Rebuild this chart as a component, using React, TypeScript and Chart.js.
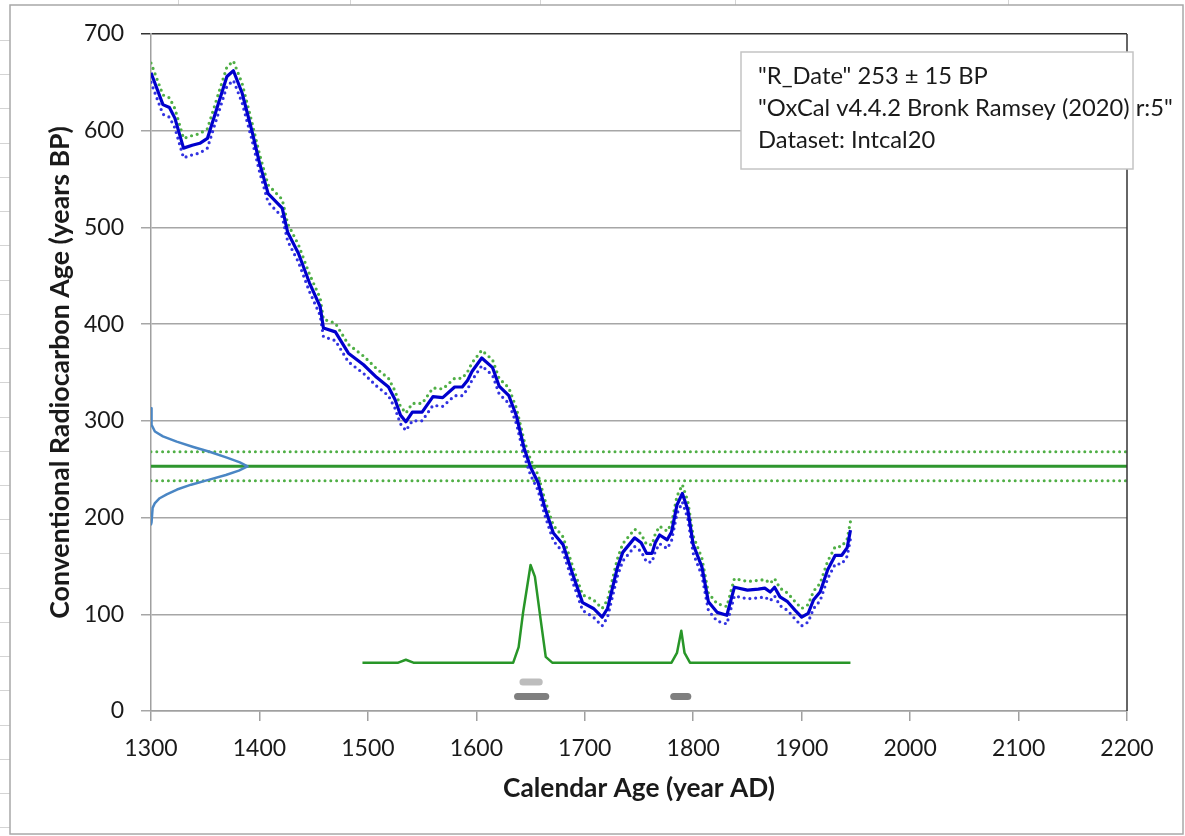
import React, { useEffect, useRef } from 'react';
import { Chart, registerables } from 'chart.js';

Chart.register(...registerables);

const W = 1185;
const H = 836;

// ---- data ----
const xMin = 1300;
const xMax = 2200;
const yMin = 0;
const yMax = 700;
const tickStep = 100;

const curveYears = [
  1300, 1311, 1317, 1322, 1330, 1338, 1345, 1352, 1361, 1370,
  1376, 1384, 1393, 1400, 1408, 1421, 1426, 1436, 1446, 1456,
  1459, 1470, 1482, 1496, 1508, 1519, 1525, 1530, 1535, 1541,
  1550, 1560, 1569, 1580, 1587, 1592, 1596, 1605, 1615, 1621,
  1630, 1637, 1644, 1650, 1657, 1663, 1671, 1680, 1689, 1698,
  1708, 1716, 1721, 1730, 1735, 1746, 1752, 1757, 1762, 1765,
  1769, 1776, 1780, 1785, 1790, 1795, 1800, 1808, 1814, 1822,
  1831, 1838, 1850, 1860, 1866, 1871, 1875, 1880, 1887, 1894,
  1900, 1906, 1911, 1917, 1924, 1931, 1937, 1942, 1945,
];
const curveBP = [
  660, 627, 624, 613, 582, 585, 587, 592, 624, 656,
  662, 639, 600, 567, 535, 520, 495, 473, 443, 418,
  396, 392, 370, 358, 345, 335, 322, 306, 299, 309,
  309, 325, 324, 335, 335, 342, 351, 365, 355, 336,
  326, 305, 272, 252, 236, 211, 184, 172, 141, 112,
  106, 97, 106, 148, 164, 179, 174, 163, 163, 174,
  182, 177, 185, 213, 225, 208, 172, 149, 113, 102,
  99, 128, 125, 126, 127, 123, 128, 118, 113, 104,
  97, 101, 115, 123, 146, 161, 161, 169, 187,
];
const curveSigma = [
  10, 10, 10, 10, 10, 10, 10, 10, 10, 10,
  10, 10, 9, 9, 9, 9, 9, 9, 9, 9,
  9, 9, 9, 9, 9, 9, 9, 9, 9, 9,
  9, 9, 9, 9, 9, 9, 9, 8, 8, 8,
  8, 8, 8, 8, 8, 8, 8, 8, 8, 8,
  9, 9, 9, 9, 9, 9, 9, 9, 9, 9,
  9, 9, 9, 9, 9, 9, 9, 9, 9, 9,
  9, 9, 9, 9, 9, 9, 9, 9, 9, 9,
  9, 9, 9, 9, 9, 9, 9, 9, 9,
];

const dateBP = 253;
const dateSigma = 15;

// measured-date distribution drawn on the y axis (x = year, y = BP)
const gaussYears = [1300, 1300.5, 1303.6, 1311, 1323.7, 1339, 1354, 1370, 1382, 1389, 1381, 1369, 1353, 1337, 1324, 1314.5, 1308, 1303.6, 1301.5, 1300.5, 1300];
const gaussBP = [313, 296, 289, 284, 278.5, 273, 268, 262, 257, 253, 248.5, 244, 239, 234, 229, 224, 220, 215, 210, 195, 193];

// calibrated probability distribution (plotted in BP units)
const probYears = [1495, 1528, 1535, 1542, 1634, 1639, 1643, 1650, 1654, 1659, 1664, 1670, 1780, 1785, 1789, 1792, 1797, 1945];
const probBP = [50, 50, 53, 50, 50, 66, 101, 151, 139, 97, 56, 50, 50, 60, 83, 60, 50, 50];

// calibrated ranges (68.3% light, 95.4% dark)
const rangeStart = [1643, 1638, 1782];
const rangeEnd = [1658, 1664, 1795];
const rangeBP = [30, 15, 15];
const rangeColors = ['#bdbdbd', '#7f7f7f', '#7f7f7f'];

const infoLines = ['"R_Date" 253 ± 15 BP', '"OxCal v4.4.2 Bronk Ramsey (2020) r:5"', 'Dataset: Intcal20'];
const xTitle = 'Calendar Age (year AD)';
const yTitle = 'Conventional Radiocarbon Age (years BP)';

const FONT = 'Lato, "Open Sans", "Noto Sans", sans-serif';

function fitSize(ctx: CanvasRenderingContext2D, text: string, weight: string, target: number, start: number) {
  let s = start;
  for (let i = 0; i < 40; i++) {
    ctx.font = `${weight} ${s}px ${FONT}`;
    const w = ctx.measureText(text).width;
    if (Math.abs(w - target) < 1) break;
    s = s * target / w;
  }
  return s;
}

const decoPlugin = {
  id: 'deco',
  beforeDraw(chart: any) {
    const ctx: CanvasRenderingContext2D = chart.ctx;
    ctx.save();
    ctx.fillStyle = '#ffffff';
    ctx.fillRect(0, 0, W, H);
    // spreadsheet cells around the chart object
    ctx.strokeStyle = '#d4d4d4';
    ctx.lineWidth = 1;
    for (let k = 0; k < 24; k++) {
      const y = Math.round(40 + 34.23 * k) + 0.5;
      ctx.beginPath();
      ctx.moveTo(0, y);
      ctx.lineTo(10, y);
      ctx.stroke();
    }
    [178, 350, 540, 735, 1008].forEach((x) => {
      ctx.beginPath();
      ctx.moveTo(x + 0.5, 0);
      ctx.lineTo(x + 0.5, 5);
      ctx.stroke();
    });
    // chart object border
    ctx.strokeStyle = '#a8a8a8';
    ctx.lineWidth = 1.5;
    ctx.strokeRect(10, 5, 1173, 829);
    ctx.restore();
  },
  afterDraw(chart: any) {
    const ctx: CanvasRenderingContext2D = chart.ctx;
    const a = chart.chartArea;
    ctx.save();
    // right border of plot area
    ctx.strokeStyle = '#333333';
    ctx.lineWidth = 1.5;
    ctx.beginPath();
    ctx.moveTo(a.right, a.top);
    ctx.lineTo(a.right, a.bottom);
    ctx.stroke();

    // axis titles
    ctx.fillStyle = '#1a1a1a';
    ctx.textAlign = 'center';
    ctx.textBaseline = 'middle';
    const xs = fitSize(ctx, xTitle, 'bold', 272, 22);
    ctx.font = `bold ${xs}px ${FONT}`;
    ctx.fillText(xTitle, (a.left + a.right) / 2, 789);
    const ys = fitSize(ctx, yTitle, 'bold', 493, 22);
    ctx.font = `bold ${ys}px ${FONT}`;
    ctx.translate(60, (a.top + a.bottom) / 2);
    ctx.rotate(-Math.PI / 2);
    ctx.fillText(yTitle, 0, 0);
    ctx.setTransform(1, 0, 0, 1, 0, 0);

    // info box
    ctx.fillStyle = '#ffffff';
    ctx.fillRect(741, 52, 392, 117);
    ctx.strokeStyle = '#c4c4c4';
    ctx.lineWidth = 1.5;
    ctx.strokeRect(741, 52, 392, 117);
    const bs = fitSize(ctx, infoLines[1], 'normal', 415, 20);
    ctx.font = `normal ${bs}px ${FONT}`;
    ctx.fillStyle = '#1a1a1a';
    ctx.textAlign = 'left';
    ctx.textBaseline = 'alphabetic';
    const baselines = [84, 116, 148];
    infoLines.forEach((t, i) => ctx.fillText(t, 758, baselines[i]));
    ctx.restore();
  },
};

function pts(xs: number[], ys: number[]) {
  return xs.map((x, i) => ({ x, y: ys[i] }));
}

export default function App() {
  const ref = useRef<HTMLCanvasElement | null>(null);

  useEffect(() => {
    if (!ref.current) return;
    const green = 'rgb(46,150,46)';
    const greenDot = 'rgb(80,175,70)';
    const blue = 'rgb(0,0,205)';
    const blueDot = 'rgb(50,50,225)';
    const dot = [0, 5.8];

    const datasets: any[] = [
      {
        label: 'curve',
        data: pts(curveYears, curveBP),
        borderColor: blue,
        borderWidth: 3.2,
        order: 1,
      },
      {
        label: 'upper',
        data: curveYears.map((x, i) => ({ x, y: curveBP[i] + curveSigma[i] })),
        borderColor: greenDot,
        borderWidth: 3.2,
        borderDash: dot,
        borderCapStyle: 'round',
        order: 3,
      },
      {
        label: 'lower',
        data: curveYears.map((x, i) => ({ x, y: curveBP[i] - curveSigma[i] })),
        borderColor: blueDot,
        borderWidth: 3.2,
        borderDash: dot,
        borderCapStyle: 'round',
        order: 2,
      },
      {
        label: 'date',
        data: [{ x: xMin, y: dateBP }, { x: xMax, y: dateBP }],
        borderColor: green,
        borderWidth: 3,
        order: 5,
      },
      {
        label: 'date+',
        data: [{ x: xMin, y: dateBP + dateSigma }, { x: xMax, y: dateBP + dateSigma }],
        borderColor: greenDot,
        borderWidth: 3,
        borderDash: dot,
        borderCapStyle: 'round',
        order: 5,
      },
      {
        label: 'date-',
        data: [{ x: xMin, y: dateBP - dateSigma }, { x: xMax, y: dateBP - dateSigma }],
        borderColor: greenDot,
        borderWidth: 3,
        borderDash: dot,
        borderCapStyle: 'round',
        order: 5,
      },
      {
        label: 'gauss',
        data: pts(gaussYears, gaussBP),
        borderColor: 'rgb(74,134,196)',
        borderWidth: 2.5,
        order: 4,
      },
      {
        label: 'prob',
        data: pts(probYears, probBP),
        borderColor: 'rgb(40,150,40)',
        borderWidth: 2.5,
        order: 4,
      },
      ...rangeStart.map((s, i) => ({
        label: 'range' + i,
        data: [{ x: s, y: rangeBP[i] }, { x: rangeEnd[i], y: rangeBP[i] }],
        borderColor: rangeColors[i],
        borderWidth: 7,
        borderCapStyle: 'round',
        order: 4,
      })),
    ];

    const chart = new Chart(ref.current, {
      type: 'line',
      data: { datasets },
      plugins: [decoPlugin],
      options: {
        animation: false,
        responsive: false,
        devicePixelRatio: 1,
        parsing: false as any,
        elements: { point: { radius: 0 }, line: { tension: 0, borderJoinStyle: 'round' } },
        layout: { padding: { left: 0, right: W - 1127, top: 34, bottom: 0 } },
        plugins: {
          legend: { display: false },
          tooltip: { enabled: false },
          title: { display: false },
        },
        scales: {
          x: {
            type: 'linear',
            min: xMin,
            max: xMax,
            afterFit: (s: any) => { s.height = H - 711; },
            ticks: {
              stepSize: tickStep,
              color: '#1a1a1a',
              font: { family: FONT, size: 23 },
              padding: 14,
              maxRotation: 0,
              callback: (v: any) => String(v),
            },
            grid: { drawOnChartArea: false, drawTicks: true, tickLength: 10, color: '#a0a0a0', lineWidth: 1.5 },
            border: { color: '#a0a0a0', width: 1.5 },
          },
          y: {
            type: 'linear',
            min: yMin,
            max: yMax,
            afterFit: (s: any) => { s.width = 151; },
            ticks: {
              stepSize: tickStep,
              color: '#1a1a1a',
              font: { family: FONT, size: 23 },
              padding: 17,
              callback: (v: any) => String(v),
            },
            grid: {
              drawTicks: true,
              tickLength: 10,
              color: (c: any) => (c.tick && c.tick.value === yMax ? '#333333' : '#a6a6a6'),
              lineWidth: 1.5,
            },
            border: { color: '#a0a0a0', width: 1.5 },
          },
        },
      } as any,
    });
    return () => chart.destroy();
  }, []);

  return (
    <div style={{ position: 'absolute', left: 0, top: 0, width: W, height: H }}>
      <canvas ref={ref} width={W} height={H} style={{ width: W, height: H, display: 'block' }} />
    </div>
  );
}
